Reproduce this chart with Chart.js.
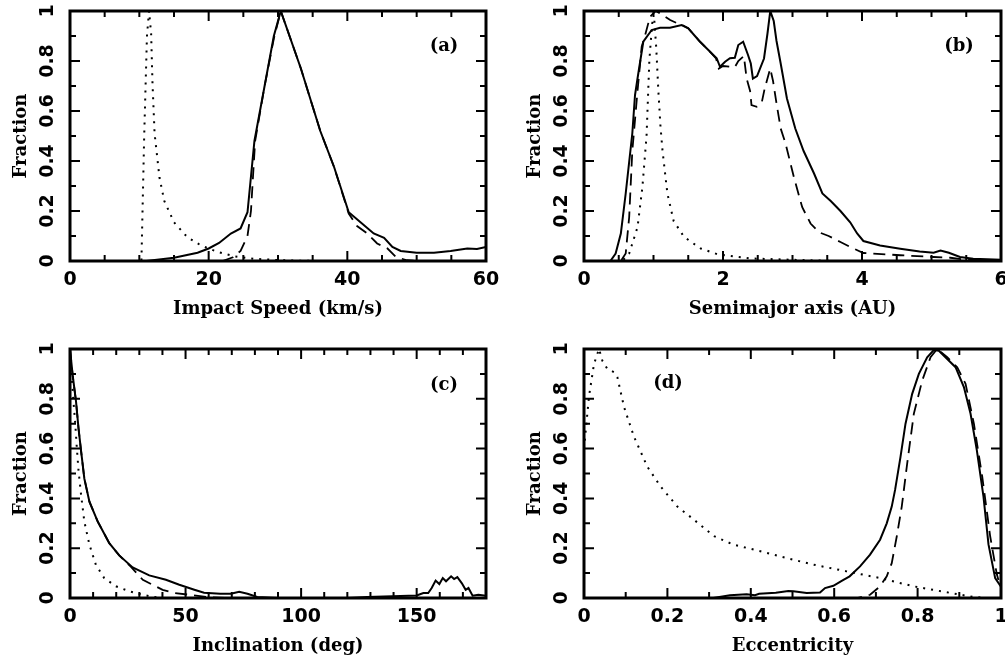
<!DOCTYPE html>
<html>
<head>
<meta charset="utf-8">
<script src="https://cdn.jsdelivr.net/npm/chart.js@4.4.1/dist/chart.umd.min.js"></script>
<style>
  body { margin: 0; background: #fff; }
  #wrap { position: relative; width: 1005px; height: 663px; background: #fff; }
  canvas { position: absolute; }
</style>
</head>
<body>
<div id="wrap">
  <canvas id="cA" width="500" height="330" style="left:0;top:0"></canvas>
  <canvas id="cB" width="505" height="330" style="left:500px;top:0"></canvas>
  <canvas id="cC" width="500" height="333" style="left:0;top:330px"></canvas>
  <canvas id="cD" width="505" height="333" style="left:500px;top:330px"></canvas>
</div>
<script>
// (a) impact speed
const speedSolidX = [0, 11, 15, 18.4, 20, 21.5, 23.2, 24.6, 25.6, 26.6, 28, 29.4, 30.4, 33.3, 36.1, 38.1, 40.2, 41.9, 43.8, 45.3, 46.5, 47.7, 50, 52.5, 54.9, 57.3, 58.7, 60];
const speedSolidY = [0, 0, 0.013, 0.033, 0.05, 0.072, 0.11, 0.13, 0.195, 0.48, 0.69, 0.90, 1.0, 0.77, 0.52, 0.375, 0.195, 0.155, 0.11, 0.093, 0.056, 0.04, 0.033, 0.033, 0.04, 0.05, 0.048, 0.056];
const speedDashedX = [0, 22, 23.5, 24.6, 25.6, 26.1, 26.7, 28, 29.4, 30.4, 33.3, 36.1, 38.1, 40.2, 41.4, 42.9, 44.3, 45.8, 47, 48.6, 50, 60];
const speedDashedY = [0, 0, 0.015, 0.04, 0.1, 0.2, 0.48, 0.69, 0.89, 1.0, 0.77, 0.52, 0.375, 0.19, 0.14, 0.11, 0.07, 0.05, 0.016, 0.003, 0, 0];
const speedDottedX = [0, 10.3, 10.7, 11.1, 11.4, 11.7, 11.9, 12.2, 12.9, 13.6, 15, 16.9, 18.9, 21.3, 23.7, 26.5, 29.9, 33.3, 36, 60];
const speedDottedY = [0, 0, 0.5, 0.9, 1.0, 0.91, 0.71, 0.51, 0.335, 0.24, 0.155, 0.096, 0.062, 0.036, 0.019, 0.009, 0.004, 0.001, 0, 0];

// (b) semimajor axis
const semiSolidX = [0, 0.38, 0.455, 0.53, 0.6, 0.695, 0.734, 0.77, 0.853, 0.974, 1.094, 1.237, 1.406, 1.5, 1.669, 1.789, 1.909, 1.957, 2.03, 2.1, 2.17, 2.22, 2.29, 2.36, 2.4, 2.43, 2.49, 2.59, 2.64, 2.68, 2.73, 2.77, 2.83, 2.92, 3.04, 3.16, 3.31, 3.43, 3.55, 3.69, 3.83, 3.93, 4.02, 4.26, 4.55, 4.83, 5.03, 5.13, 5.25, 5.41, 5.6, 6];
const semiSolidY = [0, 0, 0.03, 0.11, 0.27, 0.51, 0.664, 0.73, 0.877, 0.924, 0.933, 0.933, 0.944, 0.931, 0.877, 0.844, 0.811, 0.777, 0.797, 0.811, 0.813, 0.864, 0.877, 0.824, 0.79, 0.73, 0.74, 0.81, 0.91, 1.0, 0.96, 0.88, 0.79, 0.65, 0.53, 0.44, 0.35, 0.27, 0.24, 0.2, 0.155, 0.11, 0.08, 0.062, 0.049, 0.038, 0.033, 0.042, 0.033, 0.016, 0.009, 0.005];
const semiDashedX = [0, 0.53, 0.6, 0.65, 0.695, 0.77, 0.83, 0.88, 0.95, 1.03, 1.1, 1.24, 1.35, 1.41, 1.5, 1.669, 1.789, 1.9, 1.94, 2.0, 2.1, 2.17, 2.22, 2.3, 2.34, 2.39, 2.41, 2.485, 2.56, 2.6, 2.68, 2.72, 2.77, 2.83, 2.9, 3.02, 3.14, 3.26, 3.38, 3.52, 3.69, 3.83, 4.02, 4.55, 5.03, 5.27, 5.51, 6];
const semiDashedY = [0, 0, 0.03, 0.175, 0.44, 0.68, 0.857, 0.904, 0.977, 1.0, 0.99, 0.964, 0.95, 0.944, 0.931, 0.877, 0.844, 0.81, 0.77, 0.78, 0.777, 0.775, 0.8, 0.82, 0.73, 0.68, 0.624, 0.617, 0.637, 0.69, 0.77, 0.72, 0.63, 0.53, 0.47, 0.335, 0.215, 0.15, 0.115, 0.1, 0.076, 0.056, 0.032, 0.023, 0.016, 0.013, 0.005, 0.003];
const semiDottedX = [0, 0.55, 0.65, 0.77, 0.84, 0.9, 0.94, 0.98, 1.01, 1.04, 1.07, 1.1, 1.13, 1.2, 1.29, 1.44, 1.68, 1.92, 2.4, 3.1, 3.6, 6];
const semiDottedY = [0, 0, 0.03, 0.135, 0.295, 0.5, 0.8, 0.95, 0.97, 0.85, 0.68, 0.54, 0.44, 0.27, 0.16, 0.096, 0.05, 0.027, 0.01, 0.004, 0, 0];

// (c) inclination
const inclSolidX = [0, 1.15, 2.6, 3.7, 4.8, 6.2, 8.4, 12, 17, 21.3, 27.1, 34.3, 41.5, 47.3, 53.8, 58, 65, 69.6, 73.2, 76.8, 81, 90, 120, 128.6, 143, 150, 152.9, 155, 156.5, 158.2, 159.8, 161.3, 162.7, 164.9, 166.2, 167.6, 169.5, 171.2, 172.4, 174.2, 176.7, 180];
const inclSolidY = [1.0, 0.895, 0.79, 0.68, 0.59, 0.48, 0.387, 0.307, 0.22, 0.171, 0.123, 0.091, 0.073, 0.053, 0.033, 0.021, 0.017, 0.017, 0.025, 0.017, 0.004, 0, 0, 0.004, 0.008, 0.01, 0.02, 0.02, 0.04, 0.07, 0.056, 0.08, 0.067, 0.087, 0.076, 0.084, 0.06, 0.033, 0.04, 0.009, 0.013, 0.009];
const inclDashedX = [0, 1.15, 2.6, 3.7, 4.8, 6.2, 8.4, 12, 17, 21.3, 26.4, 31.5, 35.8, 40.1, 45.1, 51.6, 60, 70];
const inclDashedY = [1.0, 0.895, 0.79, 0.68, 0.59, 0.48, 0.387, 0.307, 0.22, 0.171, 0.125, 0.073, 0.053, 0.033, 0.02, 0.013, 0.003, 0];
const inclDottedX = [0, 0.3, 0.9, 1.4, 2.2, 2.9, 3.7, 4.8, 6.2, 8.4, 11.2, 14.8, 19.9, 25.7, 31.5, 35.8, 40];
const inclDottedY = [1.0, 0.94, 0.87, 0.80, 0.71, 0.61, 0.51, 0.414, 0.307, 0.214, 0.133, 0.08, 0.047, 0.027, 0.013, 0.005, 0];

// (d) eccentricity
const eccSolidX = [0, 0.31, 0.35, 0.39, 0.41, 0.42, 0.46, 0.49, 0.502, 0.534, 0.566, 0.578, 0.598, 0.618, 0.637, 0.662, 0.686, 0.71, 0.726, 0.738, 0.746, 0.759, 0.771, 0.787, 0.803, 0.823, 0.839, 0.851, 0.871, 0.891, 0.911, 0.927, 0.942, 0.958, 0.97, 0.986, 1.0];
const eccSolidY = [0, 0, 0.011, 0.015, 0.011, 0.017, 0.021, 0.028, 0.027, 0.02, 0.022, 0.04, 0.049, 0.069, 0.087, 0.127, 0.174, 0.234, 0.30, 0.367, 0.434, 0.567, 0.70, 0.82, 0.90, 0.967, 0.996, 0.993, 0.96, 0.927, 0.847, 0.74, 0.594, 0.407, 0.215, 0.08, 0.045];
const eccDashedX = [0, 0.655, 0.686, 0.71, 0.726, 0.738, 0.75, 0.762, 0.775, 0.791, 0.811, 0.831, 0.847, 0.871, 0.895, 0.915, 0.935, 0.955, 0.974, 0.99, 0.998];
const eccDashedY = [0, 0, 0.013, 0.047, 0.087, 0.14, 0.247, 0.367, 0.54, 0.74, 0.873, 0.967, 1.0, 0.967, 0.927, 0.86, 0.70, 0.487, 0.248, 0.095, 0.048];
const eccDottedX = [0, 0.012, 0.024, 0.036, 0.044, 0.056, 0.072, 0.08, 0.096, 0.12, 0.152, 0.184, 0.224, 0.264, 0.312, 0.359, 0.423, 0.47, 0.55, 0.63, 0.71, 0.79, 0.87, 0.934, 0.966, 1.0];
const eccDottedY = [0.6, 0.81, 0.94, 1.0, 0.953, 0.92, 0.907, 0.887, 0.767, 0.647, 0.527, 0.447, 0.367, 0.314, 0.248, 0.214, 0.188, 0.167, 0.134, 0.107, 0.08, 0.047, 0.023, 0.004, 0, 0];

// tick labels
const fractionTicks = [0, 0.2, 0.4, 0.6, 0.8, 1];
const fractionLabels = ['0', '0.2', '0.4', '0.6', '0.8', '1'];
const speedTicks = [0, 20, 40, 60];
const semiTicks = [0, 2, 4, 6];
const inclTicks = [0, 50, 100, 150];
const eccTicks = [0, 0.2, 0.4, 0.6, 0.8, 1];
const eccLabels = ['0', '0.2', '0.4', '0.6', '0.8', '1'];

const TICK_FONT = 'bold 19px "DejaVu Sans"';
const TITLE_FONT = 'bold 18px "DejaVu Serif"';

function pts(xs, ys) {
  return xs.map((x, i) => ({ x: x, y: ys[i] }));
}

function series(xs, ys, style) {
  const ds = {
    data: pts(xs, ys),
    borderColor: '#000',
    borderWidth: 2,
    pointRadius: 0,
    tension: 0,
    fill: false
  };
  if (style === 'dashed') { ds.borderDash = [12, 7]; ds.borderWidth = 1.8; }
  if (style === 'dotted') { ds.borderDash = [2, 6]; }
  return ds;
}

// frame, inward ticks, labels, titles (drawn with the chart's own scales)
function framePlugin(p) {
  return {
    id: 'frame',
    afterDatasetsDraw(chart) {
      const ctx = chart.ctx;
      const a = chart.chartArea;
      const xs = chart.scales.x, ys = chart.scales.y;
      ctx.save();
      ctx.strokeStyle = '#000';
      ctx.fillStyle = '#000';
      ctx.lineWidth = 2;
      ctx.beginPath();
      const nx = Math.round((p.xMax - p.xMin) / p.xMinor);
      for (let i = 0; i <= nx; i++) {
        const v = p.xMin + i * p.xMinor;
        const major = p.xTicks.some(t => Math.abs(t - v) < p.xMinor / 100);
        const len = major ? 10 : 6;
        const px = xs.getPixelForValue(v);
        ctx.moveTo(px, a.bottom); ctx.lineTo(px, a.bottom - len);
        ctx.moveTo(px, a.top); ctx.lineTo(px, a.top + len);
      }
      for (let i = 0; i <= 10; i++) {
        const v = i / 10;
        const major = i % 2 === 0;
        const len = major ? 10 : 6;
        const py = ys.getPixelForValue(v);
        ctx.moveTo(a.left, py); ctx.lineTo(a.left + len, py);
        ctx.moveTo(a.right, py); ctx.lineTo(a.right - len, py);
      }
      ctx.stroke();

      ctx.lineWidth = 3;
      ctx.strokeRect(a.left, a.top, a.right - a.left, a.bottom - a.top);

      // tick labels
      ctx.font = TICK_FONT;
      ctx.textAlign = 'center';
      ctx.textBaseline = 'middle';
      p.xTicks.forEach((t, i) => {
        ctx.fillText(p.xLabels[i], xs.getPixelForValue(t), a.bottom + 19);
      });
      fractionTicks.forEach((t, i) => {
        ctx.save();
        ctx.translate(a.left - 22, ys.getPixelForValue(t));
        ctx.rotate(-Math.PI / 2);
        ctx.fillText(fractionLabels[i], 0, 0);
        ctx.restore();
      });

      // axis titles
      ctx.font = TITLE_FONT;
      ctx.fillText(p.xTitle, (a.left + a.right) / 2, a.bottom + 48);
      ctx.save();
      ctx.translate(a.left - 49, (a.top + a.bottom) / 2);
      ctx.rotate(-Math.PI / 2);
      ctx.fillText('Fraction', 0, 0);
      ctx.restore();

      // panel tag
      const tx = p.tagFromLeft ? a.left + p.tagDx : a.right - p.tagDx;
      ctx.fillText(p.tag, tx, a.top + p.tagDy);
      ctx.restore();
    }
  };
}

function makePanel(id, pad, p, datasets) {
  return new Chart(document.getElementById(id), {
    type: 'line',
    data: { datasets: datasets },
    options: {
      responsive: false,
      animation: false,
      events: [],
      layout: { padding: pad },
      plugins: { legend: { display: false }, tooltip: { enabled: false } },
      scales: {
        x: { type: 'linear', min: p.xMin, max: p.xMax, display: false },
        y: { type: 'linear', min: 0, max: 1, display: false }
      }
    },
    plugins: [framePlugin(p)]
  });
}

makePanel('cA', { left: 70, top: 11, right: 14, bottom: 69 }, {
  xMin: 0, xMax: 60, xMinor: 5, xTicks: speedTicks, xLabels: speedTicks.map(String),
  xTitle: 'Impact Speed (km/s)', tag: '(a)', tagDx: 42, tagDy: 35, tagFromLeft: false
}, [
  series(speedSolidX, speedSolidY, 'solid'),
  series(speedDashedX, speedDashedY, 'dashed'),
  series(speedDottedX, speedDottedY, 'dotted')
]);

makePanel('cB', { left: 84, top: 11, right: 4, bottom: 69 }, {
  xMin: 0, xMax: 6, xMinor: 0.5, xTicks: semiTicks, xLabels: semiTicks.map(String),
  xTitle: 'Semimajor axis (AU)', tag: '(b)', tagDx: 42, tagDy: 35, tagFromLeft: false
}, [
  series(semiSolidX, semiSolidY, 'solid'),
  series(semiDashedX, semiDashedY, 'dashed'),
  series(semiDottedX, semiDottedY, 'dotted')
]);

makePanel('cC', { left: 70, top: 19, right: 14, bottom: 65 }, {
  xMin: 0, xMax: 180, xMinor: 10, xTicks: inclTicks, xLabels: inclTicks.map(String),
  xTitle: 'Inclination (deg)', tag: '(c)', tagDx: 42, tagDy: 36, tagFromLeft: false
}, [
  series(inclSolidX, inclSolidY, 'solid'),
  series(inclDashedX, inclDashedY, 'dashed'),
  series(inclDottedX, inclDottedY, 'dotted')
]);

makePanel('cD', { left: 84, top: 19, right: 4, bottom: 65 }, {
  xMin: 0, xMax: 1, xMinor: 0.1, xTicks: eccTicks, xLabels: eccLabels,
  xTitle: 'Eccentricity', tag: '(d)', tagDx: 84, tagDy: 34, tagFromLeft: true
}, [
  series(eccSolidX, eccSolidY, 'solid'),
  series(eccDashedX, eccDashedY, 'dashed'),
  series(eccDottedX, eccDottedY, 'dotted')
]);
</script>
</body>
</html>
